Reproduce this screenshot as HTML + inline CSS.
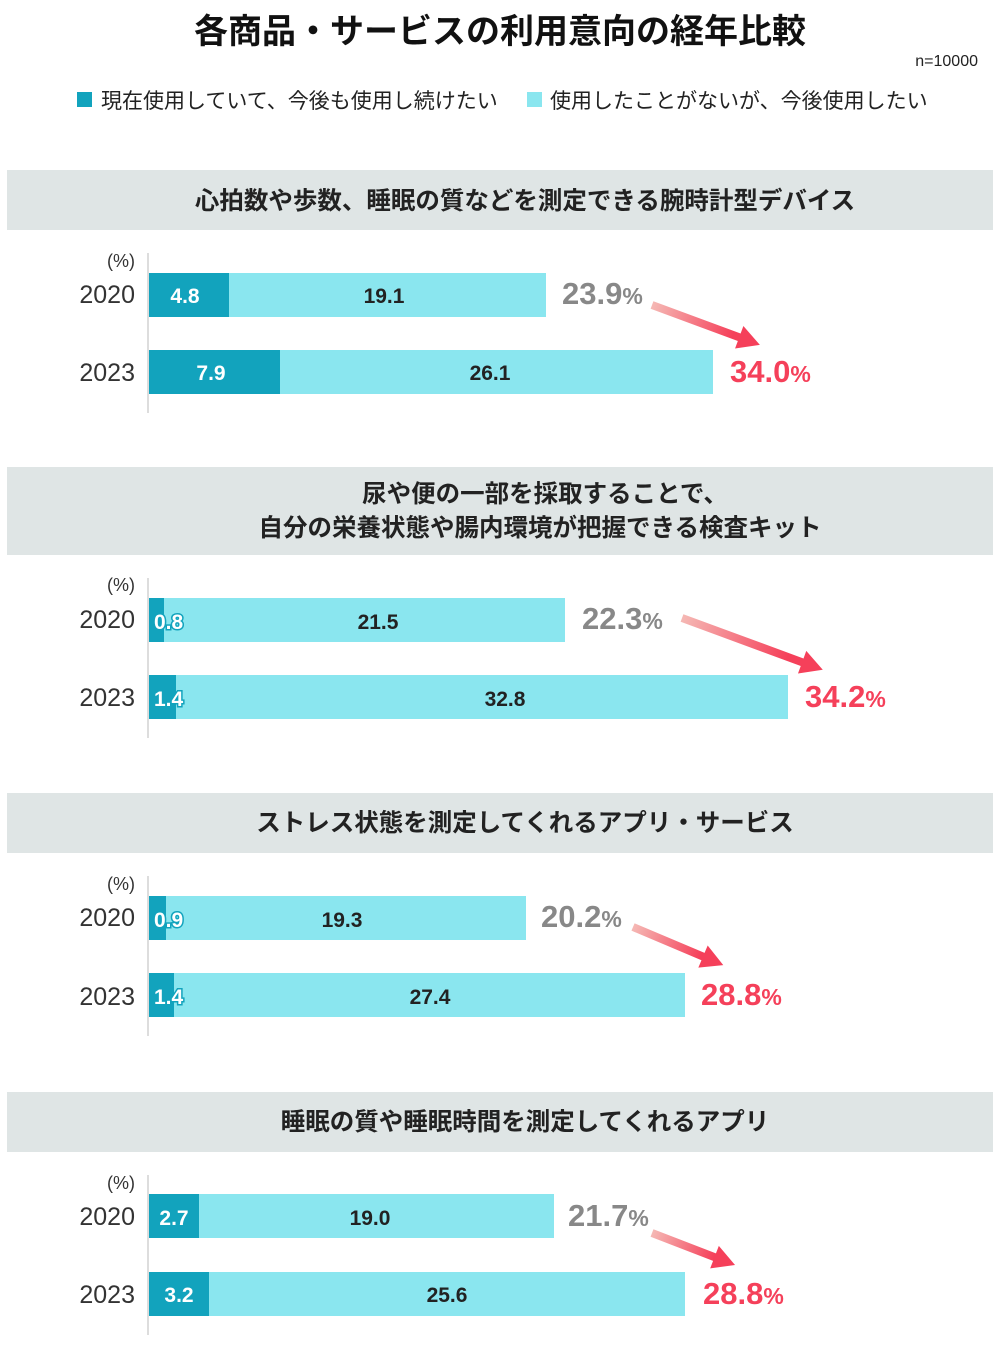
<!DOCTYPE html>
<html><head><meta charset="utf-8"><style>body{margin:0;background:#fff}svg{display:block}</style></head>
<body>
<svg width="1000" height="1360" xmlns="http://www.w3.org/2000/svg" font-family="Liberation Sans, Noto Sans CJK JP, sans-serif">
<defs>
<linearGradient id="g" x1="0" x2="1" y1="0" y2="0"><stop offset="0" stop-color="#f5b8b4"/><stop offset="0.75" stop-color="#f5405a"/><stop offset="1" stop-color="#f5405a"/></linearGradient>
</defs>
<text x="500" y="43" text-anchor="middle" font-size="34" font-weight="bold" fill="#111">各商品・サービスの利用意向の経年比較</text>
<text x="978" y="66" text-anchor="end" font-size="16" fill="#222">n=10000</text>
<rect x="77" y="92" width="15" height="15" fill="#12a3bd"/>
<text x="101" y="108" font-size="21" fill="#222">現在使用していて、今後も使用し続けたい</text>
<rect x="527" y="92" width="15" height="15" fill="#8ae6ef"/>
<text x="550" y="108" font-size="21" fill="#222">使用したことがないが、今後使用したい</text>

<g font-size="24.5" font-weight="bold" fill="#222" text-anchor="middle">
<rect x="7" y="170" width="986" height="60" fill="#dfe5e5"/>
<text x="525" y="209">心拍数や歩数、睡眠の質などを測定できる腕時計型デバイス</text>
<rect x="7" y="467" width="986" height="88" fill="#dfe5e5"/>
<text x="545" y="502">尿や便の一部を採取することで、</text>
<text x="540" y="536">自分の栄養状態や腸内環境が把握できる検査キット</text>
<rect x="7" y="793" width="986" height="60" fill="#dfe5e5"/>
<text x="525" y="831">ストレス状態を測定してくれるアプリ・サービス</text>
<rect x="7" y="1092" width="986" height="60" fill="#dfe5e5"/>
<text x="525" y="1130">睡眠の質や睡眠時間を測定してくれるアプリ</text>
</g>

<g fill="#333" text-anchor="end">
<g font-size="18"><text x="135" y="267">(%)</text><text x="135" y="591">(%)</text><text x="135" y="890">(%)</text><text x="135" y="1189">(%)</text></g>
<g font-size="25">
<text x="135" y="303">2020</text><text x="135" y="381">2023</text>
<text x="135" y="628">2020</text><text x="135" y="706">2023</text>
<text x="135" y="926">2020</text><text x="135" y="1005">2023</text>
<text x="135" y="1225">2020</text><text x="135" y="1303">2023</text>
</g></g>

<g fill="#ddd">
<rect x="147" y="253" width="2" height="160"/><rect x="147" y="578" width="2" height="160"/>
<rect x="147" y="876" width="2" height="160"/><rect x="147" y="1175" width="2" height="160"/>
</g>

<g>
<rect x="149" y="273" width="397" height="44" fill="#8ae6ef"/><rect x="149" y="273" width="80" height="44" fill="#12a3bd"/>
<rect x="149" y="350" width="564" height="44" fill="#8ae6ef"/><rect x="149" y="350" width="131" height="44" fill="#12a3bd"/>
<rect x="149" y="598" width="416" height="44" fill="#8ae6ef"/><rect x="149" y="598" width="15" height="44" fill="#12a3bd"/>
<rect x="149" y="675" width="639" height="44" fill="#8ae6ef"/><rect x="149" y="675" width="27" height="44" fill="#12a3bd"/>
<rect x="149" y="896" width="377" height="44" fill="#8ae6ef"/><rect x="149" y="896" width="17" height="44" fill="#12a3bd"/>
<rect x="149" y="973" width="536" height="44" fill="#8ae6ef"/><rect x="149" y="973" width="25" height="44" fill="#12a3bd"/>
<rect x="149" y="1194" width="405" height="44" fill="#8ae6ef"/><rect x="149" y="1194" width="50" height="44" fill="#12a3bd"/>
<rect x="149" y="1272" width="536" height="44" fill="#8ae6ef"/><rect x="149" y="1272" width="60" height="44" fill="#12a3bd"/>
</g>
<g font-size="21" font-weight="bold" text-anchor="middle" fill="#222">
<text x="185" y="303" fill="#fff">4.8</text><text x="384" y="303">19.1</text>
<text x="211" y="380" fill="#fff">7.9</text><text x="490" y="380">26.1</text>
<text x="378" y="629">21.5</text><text x="505" y="706">32.8</text>
<text x="342" y="927">19.3</text><text x="430" y="1004">27.4</text>
<text x="174" y="1225" fill="#fff">2.7</text><text x="370" y="1225">19.0</text>
<text x="179" y="1302" fill="#fff">3.2</text><text x="447" y="1302">25.6</text>
</g>
<g font-size="21" font-weight="bold" fill="#fff" stroke="#12a3bd" stroke-width="3" paint-order="stroke">
<text x="154" y="629">0.8</text><text x="154" y="706">1.4</text>
<text x="154" y="927">0.9</text><text x="154" y="1004">1.4</text>
</g>

<g font-weight="bold" font-size="31">
<text x="562" y="304" fill="#888">23.9<tspan font-size="23">%</tspan></text>
<text x="730" y="382" fill="#f5405a">34.0<tspan font-size="23">%</tspan></text>
<text x="582" y="629" fill="#888">22.3<tspan font-size="23">%</tspan></text>
<text x="805" y="707" fill="#f5405a">34.2<tspan font-size="23">%</tspan></text>
<text x="541" y="927" fill="#888">20.2<tspan font-size="23">%</tspan></text>
<text x="701" y="1005" fill="#f5405a">28.8<tspan font-size="23">%</tspan></text>
<text x="568" y="1226" fill="#888">21.7<tspan font-size="23">%</tspan></text>
<text x="703" y="1304" fill="#f5405a">28.8<tspan font-size="23">%</tspan></text>
</g>

<g fill="url(#g)">
<polygon transform="translate(652,305) rotate(20.3)" points="0,-4 93,-4 93,-12 115,0 93,12 93,4 0,4"/>
<polygon transform="translate(682,618) rotate(20.2)" points="0,-4 128,-4 128,-12 150,0 128,12 128,4 0,4"/>
<polygon transform="translate(633,927) rotate(22.9)" points="0,-4 76,-4 76,-12 98,0 76,12 76,4 0,4"/>
<polygon transform="translate(652,1233) rotate(21.1)" points="0,-4 67,-4 67,-12 89,0 67,12 67,4 0,4"/>
</g>
</svg>
</body></html>
